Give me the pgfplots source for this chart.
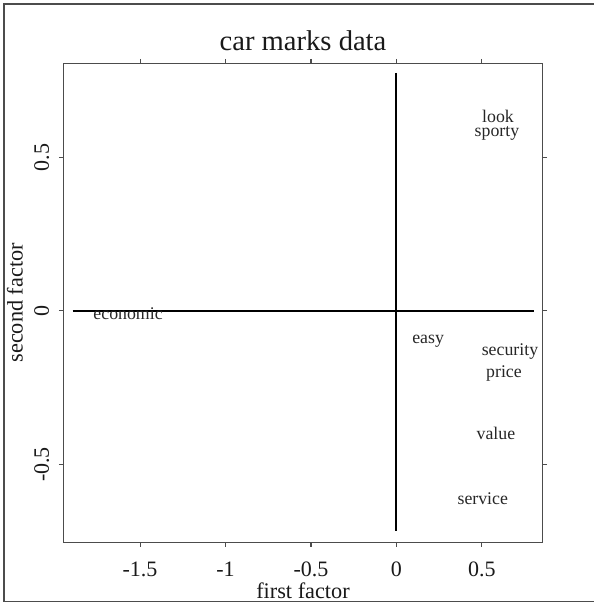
\documentclass[border=0pt]{standalone}
\usepackage{fontspec}
\setmainfont{Liberation Serif}
\usepackage{pgfplots}
\pgfplotsset{compat=1.18}
\usepackage{pgfplotstable}
\pgfplotstableread{
x y label
-1.570 -0.029 economic
0.185 -0.107 easy
0.664 -0.146 security
0.629 -0.217 price
0.582 -0.417 value
0.505 -0.631 service
0.594 0.614 look
0.588 0.569 sporty
}\labels
\begin{document}
\begin{tikzpicture}
\begin{axis}[
  at={(63.3pt,60.7pt)}, anchor=south west,
  scale only axis, width=479.4pt, height=479pt,
  xmin=-1.949, xmax=0.8555, ymin=-0.753, ymax=0.806,
  xtick={-1.5,-1,-0.5,0,0.5}, ytick={-0.5,0,0.5},
  tick align=outside, major tick length=4.5pt,
  axis line style={draw=black!70, line width=1.1pt},
  every tick/.style={draw=black!70, line width=1.1pt},
  /pgf/number format/assume math mode=true,
  ticklabel style={font=\fontsize{22}{26}\selectfont, text=black!90, inner sep=0pt},
  xticklabel style={anchor=base}, xticklabel shift=29.4pt,
  yticklabel style={rotate=90, anchor=base}, yticklabel shift=9.8pt,
  title={car marks data},
  every axis title/.style={at={(axis description cs:0.5,1.0263)}, anchor=base, inner sep=0pt, font=\fontsize{28.6}{32}\selectfont, text=black!90},
  xlabel={first factor},
  every axis x label/.style={at={(axis description cs:0.5,-0.1169)}, anchor=base, inner sep=0pt, font=\fontsize{22.3}{26}\selectfont, text=black!90},
  ylabel={second factor},
  every axis y label/.style={at={(axis description cs:-0.0847,0.5)}, rotate=90, anchor=base, inner sep=0pt, font=\fontsize{22.3}{26}\selectfont, text=black!90},
  clip=false,
]
\addplot[black, line width=2pt] coordinates {(-1.894,0) (0.805,0)};
\addplot[black, line width=2pt] coordinates {(0,0.775) (0,-0.716)};
\addplot[only marks, mark=none, nodes near coords, point meta=explicit symbolic,
  every node near coord/.append style={anchor=base, inner sep=0pt, font=\fontsize{17.8}{20}\selectfont, text=black!85}]
  table[x=x, y=y, meta=label] {\labels};
\end{axis}
\draw[black!70, line width=1.3pt] (4pt,1.3pt) rectangle (600pt,599pt);
\pgfresetboundingbox
\useasboundingbox (0,0) rectangle (594pt,603pt);
\end{tikzpicture}
\end{document}
